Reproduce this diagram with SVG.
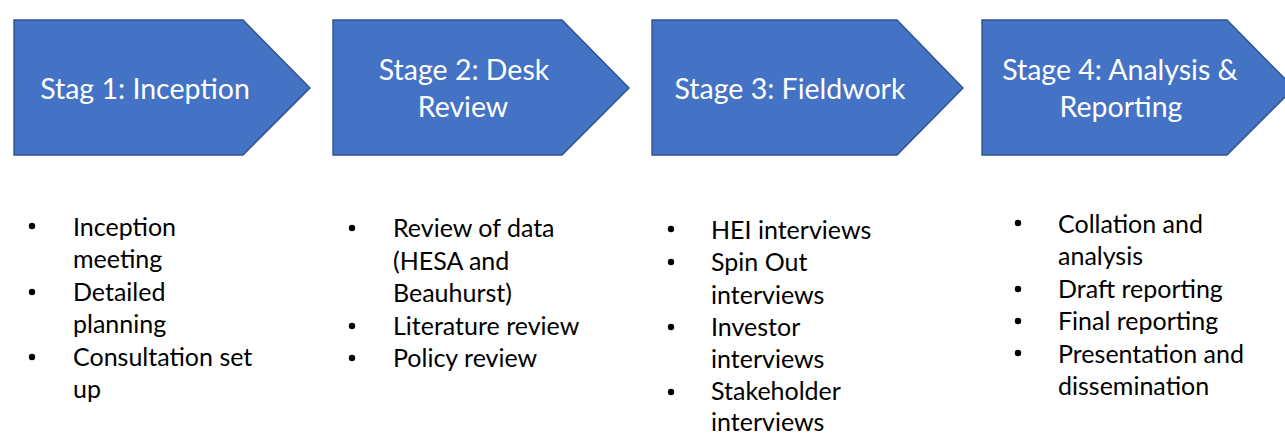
<svg xmlns="http://www.w3.org/2000/svg" width="1285" height="435" viewBox="0 0 1285 435">
  <style>
    .stage { fill: #4472C4; stroke: #2F528F; stroke-width: 1.4; stroke-linejoin: miter; }
    .title { font-family: Lato, "Liberation Sans", sans-serif; font-size: 28.5px; fill: #FFFFFF; text-anchor: middle; }
    .item { font-family: Lato, "Liberation Sans", sans-serif; font-size: 25px; fill: #000000; }
    .dot { fill: #000000; }
  </style>
  <rect width="1285" height="435" fill="#FFFFFF"/>

  <!-- process stages: chevron-ended boxes -->
  <g id="stage1">
    <path class="stage" d="M14,20 H243 L310,88 L243,155 H14 Z"/>
    <text class="title" x="145" y="99">Stag 1: Inception</text>
  </g>
  <g id="stage2">
    <path class="stage" d="M333,20 H562 L629,88 L562,155 H333 Z"/>
    <text class="title" x="464" y="80">Stage 2: Desk</text>
    <text class="title" x="463" y="117">Review</text>
  </g>
  <g id="stage3">
    <path class="stage" d="M652,20 H897 L963,88 L897,155 H652 Z"/>
    <text class="title" x="790" y="99">Stage 3: Fieldwork</text>
  </g>
  <g id="stage4">
    <path class="stage" d="M982,20 H1227 L1294,88 L1227,155 H982 Z"/>
    <text class="title" x="1120" y="80">Stage 4: Analysis &amp;</text>
    <text class="title" x="1121" y="117">Reporting</text>
  </g>

  <!-- activity lists under each stage -->
  <g id="list1">
    <circle class="dot" cx="32" cy="226" r="3.2"/>
    <circle class="dot" cx="32" cy="292" r="3.2"/>
    <circle class="dot" cx="32" cy="357" r="3.2"/>
    <text class="item" x="73" y="236">Inception</text>
    <text class="item" x="73" y="268">meeting</text>
    <text class="item" x="73" y="301">Detailed</text>
    <text class="item" x="73" y="333">planning</text>
    <text class="item" x="73" y="366">Consultation set</text>
    <text class="item" x="73" y="398">up</text>
  </g>
  <g id="list2">
    <circle class="dot" cx="352" cy="228" r="3.2"/>
    <circle class="dot" cx="352" cy="326" r="3.2"/>
    <circle class="dot" cx="352" cy="358" r="3.2"/>
    <text class="item" x="393" y="237">Review of data</text>
    <text class="item" x="393" y="270">(HESA and</text>
    <text class="item" x="393" y="302">Beauhurst)</text>
    <text class="item" x="393" y="335">Literature review</text>
    <text class="item" x="393" y="367">Policy review</text>
  </g>
  <g id="list3">
    <circle class="dot" cx="671" cy="229" r="3.2"/>
    <circle class="dot" cx="671" cy="262" r="3.2"/>
    <circle class="dot" cx="671" cy="327" r="3.2"/>
    <circle class="dot" cx="671" cy="392" r="3.2"/>
    <text class="item" x="711" y="239">HEI interviews</text>
    <text class="item" x="711" y="271">Spin Out</text>
    <text class="item" x="711" y="304">interviews</text>
    <text class="item" x="711" y="336">Investor</text>
    <text class="item" x="711" y="368">interviews</text>
    <text class="item" x="711" y="400">Stakeholder</text>
    <text class="item" x="711" y="431">interviews</text>
  </g>
  <g id="list4">
    <circle class="dot" cx="1018" cy="223" r="3.2"/>
    <circle class="dot" cx="1018" cy="289" r="3.2"/>
    <circle class="dot" cx="1018" cy="321" r="3.2"/>
    <circle class="dot" cx="1018" cy="353" r="3.2"/>
    <text class="item" x="1058" y="233">Collation and</text>
    <text class="item" x="1058" y="265">analysis</text>
    <text class="item" x="1058" y="298">Draft reporting</text>
    <text class="item" x="1058" y="330">Final reporting</text>
    <text class="item" x="1058" y="363">Presentation and</text>
    <text class="item" x="1058" y="395">dissemination</text>
  </g>

  <g id="connectors"/>
</svg>
